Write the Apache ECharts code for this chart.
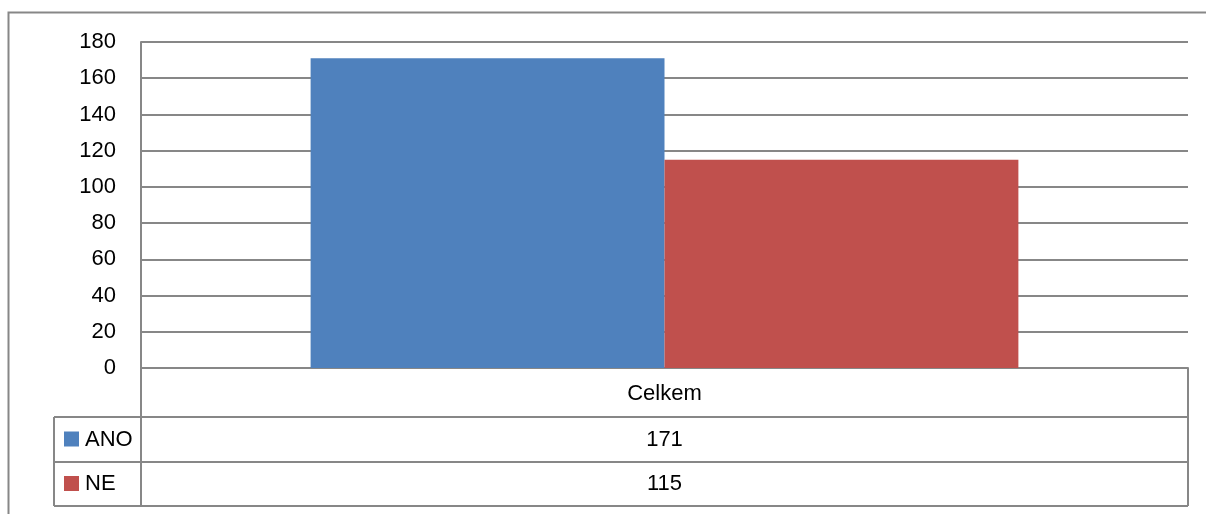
<!DOCTYPE html>
<html>
<head>
<meta charset="utf-8">
<script src="https://cdn.jsdelivr.net/npm/echarts@6/dist/echarts.min.js"></script>
<style>
  html, body { margin: 0; padding: 0; background: #fff; }
  #chart { width: 1206px; height: 514px; }
</style>
</head>
<body>
<div id="chart"></div>
<script>
  const categories = ['Celkem']
  const seriesNames = ['ANO', 'NE']
  const ano = [171]
  const ne = [115]
  const colors = ['#4F81BD', '#C0504D']

  const font = 'Liberation Sans'
  const fontSize = 22
  const lineColor = '#878787'

  const dom = echarts.init(document.getElementById('chart'))

  // data table under the plot (Excel style)
  const tableLeft = 54, plotLeft = 141, plotRight = 1188
  const rows = [368, 417, 462, 506]
  const line = (x1, y1, x2, y2) => ({
    type: 'line',
    shape: { x1, y1, x2, y2 },
    style: { stroke: lineColor, lineWidth: 2 },
    silent: true
  })
  const text = (x, y, t, align) => ({
    type: 'text',
    x, y,
    style: {
      text: t, fill: '#000', font: fontSize + 'px ' + font,
      align: align || 'center', verticalAlign: 'middle'
    }
  })

  const values = [ano, ne]
  const graphic = [
    // outer frame
    { type: 'rect', shape: { x: 8.5, y: 12.5, width: 1210, height: 520 },
      style: { fill: null, stroke: lineColor, lineWidth: 2 }, silent: true },
    line(plotLeft, rows[0], plotLeft, rows[3]),
    line(plotRight, rows[0], plotRight, rows[3]),
    line(tableLeft, rows[1], tableLeft, rows[3]),
    line(tableLeft, rows[1], plotRight, rows[1]),
    line(tableLeft, rows[2], plotRight, rows[2]),
    line(tableLeft, rows[3], plotRight, rows[3]),
    text((plotLeft + plotRight) / 2, (rows[0] + rows[1]) / 2 + 1, categories[0])
  ]
  seriesNames.forEach((name, i) => {
    const cy = (rows[i + 1] + rows[i + 2]) / 2
    graphic.push({ type: 'rect', shape: { x: 64, y: cy - 8, width: 15, height: 15 },
      style: { fill: colors[i] }, silent: true })
    graphic.push(text(85, cy, name, 'left'))
    graphic.push(text((plotLeft + plotRight) / 2, cy, String(values[i][0])))
  })

  const option = {
    animation: false,
    grid: { left: plotLeft, right: 1206 - plotRight, top: 42, bottom: 514 - rows[0] },
    xAxis: {
      type: 'category',
      data: categories,
      axisLine: { show: true, lineStyle: { color: lineColor, width: 2 } },
      axisTick: { show: false },
      axisLabel: { show: false }
    },
    yAxis: {
      type: 'value',
      min: 0,
      max: 180,
      interval: 20,
      axisLine: { show: true, lineStyle: { color: lineColor, width: 2 } },
      axisTick: { show: false },
      axisLabel: { color: '#000', fontSize: fontSize, fontFamily: font, margin: 25 },
      splitLine: { lineStyle: { color: lineColor, width: 2 } }
    },
    series: [{
      name: seriesNames[0],
      type: 'bar',
      data: ano,
      barGap: '0%',
      barCategoryGap: '32.4%',
      itemStyle: { color: colors[0] }
    }, {
      name: seriesNames[1],
      type: 'bar',
      data: ne,
      itemStyle: { color: colors[1] }
    }],
    graphic: graphic
  }

  dom.setOption(option)
</script>
</body>
</html>
